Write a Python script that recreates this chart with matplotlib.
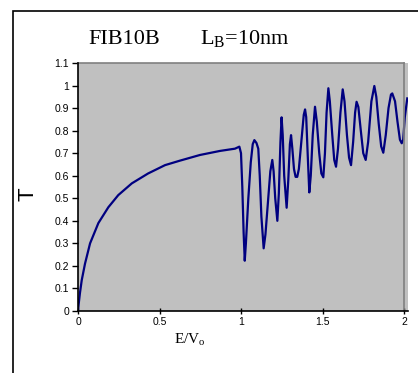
import matplotlib
matplotlib.use("Agg")
import matplotlib.pyplot as plt
from matplotlib.patches import Rectangle

plt.rcParams['mathtext.fontset'] = 'custom'
plt.rcParams['mathtext.rm'] = 'Liberation Serif'

# energy E/Vo and transmission T
energy = [0.0, 0.004, 0.012, 0.023, 0.043, 0.074, 0.125, 0.186, 0.247, 0.33,
          0.43, 0.534, 0.626, 0.748, 0.871, 0.963, 0.99, 1.0, 1.008, 1.016,
          1.023, 1.03, 1.045, 1.06, 1.072, 1.082, 1.095, 1.106, 1.115, 1.125,
          1.139, 1.15, 1.165, 1.18, 1.192, 1.2, 1.21, 1.223, 1.232, 1.242,
          1.249, 1.256, 1.265, 1.28, 1.29, 1.3, 1.307, 1.315, 1.325, 1.335,
          1.345, 1.355, 1.37, 1.385, 1.393, 1.4, 1.41, 1.419, 1.428, 1.44,
          1.454, 1.465, 1.48, 1.493, 1.505, 1.515, 1.525, 1.536, 1.545, 1.56,
          1.572, 1.583, 1.595, 1.61, 1.624, 1.635, 1.65, 1.663, 1.675, 1.688,
          1.7, 1.709, 1.72, 1.735, 1.75, 1.765, 1.78, 1.8, 1.818, 1.83,
          1.845, 1.86, 1.873, 1.888, 1.905, 1.92, 1.928, 1.945, 1.96, 1.975,
          1.986, 1.995, 2.005, 2.02]
trans = [0.0, 0.03, 0.08, 0.137, 0.21, 0.30, 0.39, 0.46, 0.514, 0.566,
         0.61, 0.647, 0.667, 0.692, 0.71, 0.72, 0.729, 0.70, 0.55, 0.35,
         0.223, 0.30, 0.50, 0.66, 0.74, 0.758, 0.745, 0.72, 0.60, 0.42,
         0.278, 0.34, 0.48, 0.62, 0.67, 0.62, 0.50, 0.40, 0.52, 0.75,
         0.859, 0.78, 0.60, 0.458, 0.58, 0.74, 0.78, 0.72, 0.63, 0.595,
         0.595, 0.63, 0.75, 0.87, 0.894, 0.86, 0.68, 0.526, 0.60, 0.78,
         0.906, 0.84, 0.70, 0.61, 0.593, 0.70, 0.88, 0.988, 0.93, 0.78,
         0.67, 0.64, 0.72, 0.88, 0.983, 0.93, 0.78, 0.68, 0.647, 0.75,
         0.88, 0.928, 0.905, 0.80, 0.70, 0.67, 0.75, 0.93, 0.998, 0.95,
         0.83, 0.73, 0.702, 0.78, 0.90, 0.96, 0.965, 0.93, 0.84, 0.76,
         0.744, 0.76, 0.86, 0.943]

x_ticks = [0, 0.5, 1, 1.5, 2]
x_labels = ['0', '0.5', '1', '1.5', '2']
y_ticks = [0, 0.1, 0.2, 0.3, 0.4, 0.5, 0.6, 0.7, 0.8, 0.9, 1.0, 1.1]
y_labels = ['0', '0.1', '0.2', '0.3', '0.4', '0.5', '0.6', '0.7', '0.8', '0.9', '1', '1.1']

W, H = 418, 373
fig = plt.figure(figsize=(W / 100, H / 100), dpi=100)
fig.patch.set_facecolor('white')

# outer chart frame
fig.patches.append(Rectangle((12.5 / W, -0.2), 2.0, 1.2 - 10.5 / H,
                             transform=fig.transFigure, fill=False,
                             edgecolor='black', linewidth=1.2))

xmax = 2.025
ax = fig.add_axes([78 / W, 62 / H, 326 * xmax / 2 / W, 248 / H])
ax.set_facecolor('#C0C0C0')
ax.plot(energy, trans, color='#000080', linewidth=1.6)
ax.set_xlim(0, xmax)
ax.set_ylim(0, 1.1)

for s in ['top', 'right']:
    ax.spines[s].set_visible(False)
ax.spines['left'].set_linewidth(1.2)
ax.spines['bottom'].set_linewidth(1.2)
ax.plot([0, 2], [1.1, 1.1], color='#808080', linewidth=1.2, clip_on=False)
ax.plot([2, 2], [0, 1.1], color='#808080', linewidth=1.2, clip_on=False)

ax.set_xticks(x_ticks)
ax.set_xticklabels(x_labels, family='Liberation Sans', fontsize=7.5)
ax.set_yticks(y_ticks)
ax.set_yticklabels(y_labels, family='Liberation Sans', fontsize=7.5)
ax.tick_params(axis='y', direction='out', length=4, width=1, pad=2.5)
ax.tick_params(axis='x', direction='inout', length=4, width=1, pad=2)

fig.text(28.5 / W, 1 - 194 / H, 'T', rotation=90, ha='center', va='center',
         family='Liberation Sans', fontsize=16)
fig.text(174 / W, 1 - 343 / H, r'E/V$_\mathrm{o}$', ha='left', va='baseline',
         family='Liberation Serif', fontsize=11)
fig.text(88 / W, 1 - 44 / H, 'FIB10B', ha='left', va='baseline',
         family='Liberation Serif', fontsize=16)
fig.text(200 / W, 1 - 44 / H, r'L$_\mathrm{B}$=10nm', ha='left', va='baseline',
         family='Liberation Serif', fontsize=16)

fig.savefig('out.png', dpi=100)
